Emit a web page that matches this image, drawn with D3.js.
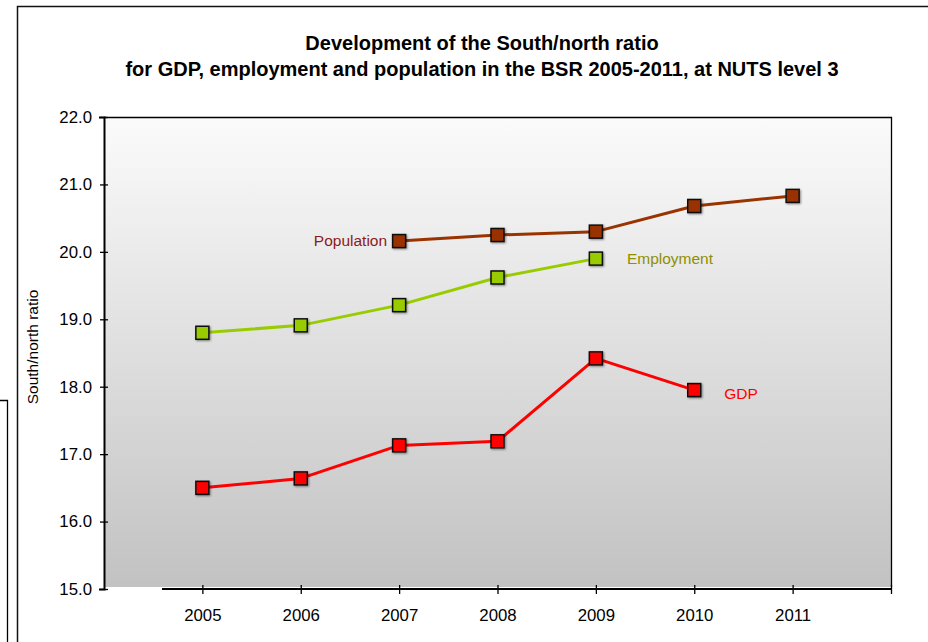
<!DOCTYPE html>
<html>
<head>
<meta charset="utf-8">
<script src="https://cdn.jsdelivr.net/npm/d3@7"></script>
<style>
  html, body { margin: 0; padding: 0; background: #fff; }
  svg { display: block; font-family: "Liberation Sans", Arial, sans-serif; }
</style>
</head>
<body>
<svg id="chart" width="928" height="642"></svg>
<script>
// South/north ratio by year, NUTS level 3
const years = [2005, 2006, 2007, 2008, 2009, 2010, 2011];
const population = [null, null, 20.16, 20.25, 20.30, 20.68, 20.83];
const employment = [18.80, 18.91, 19.21, 19.62, 19.90, null, null];
const gdp = [16.50, 16.64, 17.13, 17.19, 18.42, 17.95, null];
const yTicks = [15, 16, 17, 18, 19, 20, 21, 22];
const titleLines = [
  "Development of the South/north ratio",
  "for GDP, employment and population in the BSR 2005-2011, at NUTS level 3"
];

const series = [
  { name: "Population", values: population, color: "#993300", labelColor: "#8b1a1a" },
  { name: "Employment", values: employment, color: "#99cc00", labelColor: "#8f8f00" },
  { name: "GDP", values: gdp, color: "#ff0000", labelColor: "#ff0000" }
];

const svg = d3.select("#chart");
const plot = { left: 104, right: 891, top: 117, bottom: 589 };

const x = d3.scaleLinear().domain([2004, 2012]).range([plot.left, plot.right]);
const y = d3.scaleLinear().domain([15, 22]).range([plot.bottom, plot.top]);

// neighbouring frame peeking in on the left
svg.append("path")
  .attr("d", "M0,400.5 H7.5 V642")
  .attr("fill", "none").attr("stroke", "#000").attr("stroke-width", 1.3);

// outer chart frame
svg.append("rect")
  .attr("x", 17.5).attr("y", 6.5).attr("width", 940).attr("height", 660)
  .attr("fill", "#fff").attr("stroke", "#111").attr("stroke-width", 1.5);

// plot area background
const defs = svg.append("defs");
const grad = defs.append("linearGradient").attr("id", "bg")
  .attr("x1", 0).attr("y1", 0).attr("x2", 0).attr("y2", 1);
grad.append("stop").attr("offset", "0%").attr("stop-color", "#fbfbfb");
grad.append("stop").attr("offset", "100%").attr("stop-color", "#c2c2c2");

const shadow = defs.append("filter").attr("id", "halo")
  .attr("x", "-30%").attr("y", "-30%").attr("width", "160%").attr("height", "160%");
shadow.append("feGaussianBlur").attr("in", "SourceAlpha").attr("stdDeviation", 0.8).attr("result", "b");
shadow.append("feOffset").attr("in", "b").attr("dx", 0.5).attr("dy", 0.5).attr("result", "o");
shadow.append("feComponentTransfer").attr("in", "o").attr("result", "s")
  .append("feFuncA").attr("type", "linear").attr("slope", 0.45);
const m = shadow.append("feMerge");
m.append("feMergeNode").attr("in", "s");
m.append("feMergeNode").attr("in", "SourceGraphic");

svg.append("rect")
  .attr("x", plot.left).attr("y", plot.top)
  .attr("width", plot.right - plot.left).attr("height", plot.bottom - plot.top - 2)
  .attr("fill", "url(#bg)");
svg.append("path")
  .attr("d", `M${plot.left},${plot.top + 0.5} H${plot.right + 0.5} V${plot.bottom - 2}`)
  .attr("fill", "none").attr("stroke", "#000").attr("stroke-width", 1.3);

// title
svg.append("text")
  .attr("x", 482).attr("y", 50)
  .attr("text-anchor", "middle")
  .attr("font-weight", "bold").attr("font-size", 20).attr("fill", "#000")
  .selectAll("tspan").data(titleLines).join("tspan")
  .attr("x", 482).attr("dy", (d, i) => i === 0 ? 0 : 26)
  .text(d => d);

// y axis
const yAxis = svg.append("g")
  .attr("transform", `translate(${plot.left},0)`)
  .call(d3.axisLeft(y).tickValues(yTicks).tickFormat(d3.format(".1f")).tickSize(5).tickPadding(8));
yAxis.select(".domain").attr("stroke", "#000").attr("stroke-width", 2);
yAxis.selectAll(".tick line").attr("x2", 4).attr("x1", -4).attr("stroke", "#000").attr("stroke-width", 1.3);
yAxis.selectAll(".tick text")
  .attr("x", -12).attr("font-size", 16.8).attr("fill", "#000")
  .attr("font-family", "Liberation Sans, Arial, sans-serif");

// x axis
const xAxis = svg.append("g")
  .attr("transform", `translate(0,${plot.bottom})`)
  .call(d3.axisBottom(x).tickValues(years.concat([2012])).tickFormat(d => d === 2012 ? "" : d3.format("d")(d)).tickSize(5).tickPadding(15));
xAxis.select(".domain")
  .attr("d", `M${x(2004.59)},0 H${plot.right}`)
  .attr("stroke", "#000").attr("stroke-width", 2);
xAxis.selectAll(".tick line").attr("y1", -4).attr("y2", 5).attr("stroke", "#000").attr("stroke-width", 1.3);
xAxis.selectAll(".tick text")
  .attr("font-size", 16.8).attr("fill", "#000")
  .attr("font-family", "Liberation Sans, Arial, sans-serif");

// y axis title
svg.append("text")
  .attr("transform", `translate(38,${(plot.top + plot.bottom) / 2 - 6}) rotate(-90)`)
  .attr("text-anchor", "middle")
  .attr("font-size", 15.5).attr("fill", "#000")
  .text("South/north ratio");

// series lines and markers
const line = d3.line()
  .defined(d => d.v !== null)
  .x(d => x(d.year))
  .y(d => y(d.v));

series.forEach(s => {
  const pts = years.map((year, i) => ({ year, v: s.values[i] }));
  svg.append("path")
    .datum(pts)
    .attr("d", line)
    .attr("fill", "none")
    .attr("stroke", s.color)
    .attr("stroke-width", 3)
    .attr("stroke-linejoin", "round");
  svg.append("g").selectAll("rect")
    .data(pts.filter(d => d.v !== null))
    .join("rect")
    .attr("x", d => x(d.year) - 6.5)
    .attr("y", d => y(d.v) - 6.5)
    .attr("width", 13).attr("height", 13)
    .attr("fill", s.color)
    .attr("stroke", "#111").attr("stroke-width", 1.5)
    .attr("filter", "url(#halo)");
});

// series labels beside their lines
const labelFont = 15.5;
const popFirst = population.findIndex(v => v !== null);
svg.append("text")
  .attr("x", x(years[popFirst]) - 12).attr("y", y(population[popFirst]) + 5)
  .attr("text-anchor", "end").attr("font-size", labelFont).attr("fill", series[0].labelColor)
  .text("Population");

const empLast = employment.length - 1 - [...employment].reverse().findIndex(v => v !== null);
svg.append("text")
  .attr("x", x(years[empLast]) + 31).attr("y", y(employment[empLast]) + 5)
  .attr("font-size", labelFont).attr("fill", series[1].labelColor)
  .text("Employment");

const gdpLast = gdp.length - 1 - [...gdp].reverse().findIndex(v => v !== null);
svg.append("text")
  .attr("x", x(years[gdpLast]) + 30).attr("y", y(gdp[gdpLast]) + 9)
  .attr("font-size", labelFont).attr("fill", series[2].labelColor)
  .text("GDP");
</script>
</body>
</html>
